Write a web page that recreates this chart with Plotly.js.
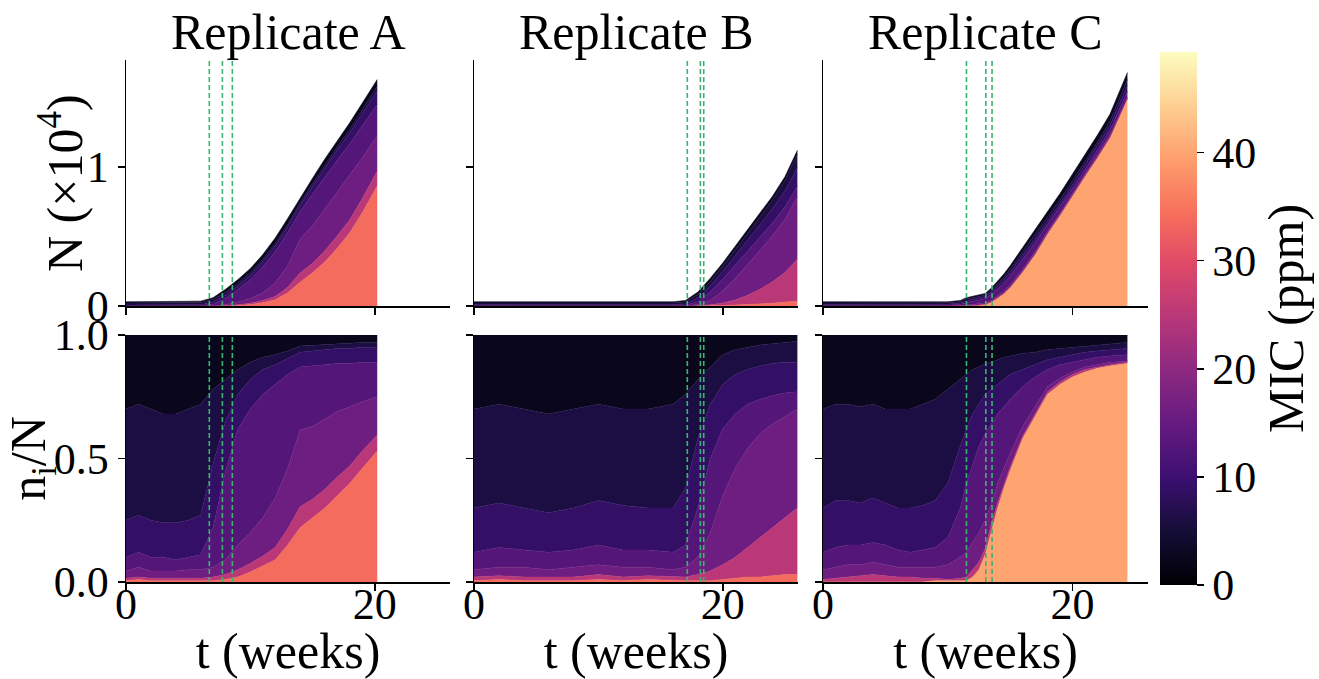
<!DOCTYPE html>
<html>
<head>
<meta charset="utf-8">
<script src="https://cdn.plot.ly/plotly-3.0.1.min.js"></script>
<style>
html,body{margin:0;padding:0;background:#fff}
#chart{width:1319px;height:679px}
#chart svg text{font-family:"Liberation Serif","DejaVu Serif","Noto Serif","Times New Roman",Times,serif !important}
</style>
</head>
<body>
<div id="chart"></div>
<script>
// ---------------- DATA ----------------
const replicateNames = ['Replicate A', 'Replicate B', 'Replicate C'];
const xTickVals = [0, 20];
const topYTickVals = [0, 1];
const bottomYTickVals = [0, 0.5, 1];
const colorbarTickVals = [0, 10, 20, 30, 40];

// MIC class (ppm) of each stacked band, bottom band first
const micClassesA = [34, 25, 16, 13, 9, 6, 2.5];
const micClassesB = [34, 25, 16, 13, 9, 6, 2.5];
const micClassesC = [40, 25, 16, 13, 9, 6, 2.5];

// dashed event lines (weeks)
const eventsA = [6.7, 7.75, 8.55];
const eventsB = [17.15, 18.2, 18.47];
const eventsC = [11.5, 13.05, 13.55];

// Replicate A
const tA = [0, 1, 2, 3, 4, 5, 6, 7, 8, 9, 10, 11, 12, 13, 14, 15, 16, 17, 18, 19, 20.2];
const NA = [0.03, 0.03, 0.03, 0.03, 0.03, 0.03, 0.035, 0.06, 0.12, 0.19, 0.27, 0.37, 0.49, 0.63, 0.78, 0.92, 1.06, 1.19, 1.32, 1.46, 1.63];
const fracA = [
  [0.005, 0.01, 0.005, 0.005, 0.005, 0.005, 0.005, 0.005, 0.01, 0.02, 0.04, 0.065, 0.09, 0.15, 0.22, 0.26, 0.30, 0.35, 0.40, 0.46, 0.53],
  [0.01, 0.01, 0.01, 0.01, 0.01, 0.01, 0.01, 0.015, 0.02, 0.03, 0.035, 0.04, 0.05, 0.065, 0.085, 0.075, 0.075, 0.075, 0.07, 0.07, 0.065],
  [0.03, 0.04, 0.03, 0.03, 0.03, 0.035, 0.035, 0.04, 0.06, 0.10, 0.125, 0.155, 0.20, 0.245, 0.31, 0.295, 0.285, 0.265, 0.24, 0.20, 0.155],
  [0.055, 0.06, 0.055, 0.055, 0.045, 0.05, 0.06, 0.16, 0.36, 0.47, 0.50, 0.50, 0.46, 0.38, 0.255, 0.245, 0.22, 0.195, 0.175, 0.16, 0.14],
  [0.15, 0.15, 0.15, 0.14, 0.15, 0.15, 0.16, 0.26, 0.20, 0.14, 0.12, 0.10, 0.08, 0.065, 0.06, 0.06, 0.06, 0.06, 0.06, 0.06, 0.06],
  [0.45, 0.45, 0.45, 0.44, 0.44, 0.45, 0.45, 0.30, 0.17, 0.10, 0.07, 0.05, 0.04, 0.03, 0.025, 0.023, 0.02, 0.02, 0.02, 0.02, 0.02],
  [0.30, 0.28, 0.30, 0.32, 0.32, 0.30, 0.28, 0.22, 0.18, 0.14, 0.11, 0.09, 0.08, 0.065, 0.045, 0.042, 0.04, 0.035, 0.035, 0.03, 0.03]
];

// Replicate B
const tB = [0, 2, 4, 6, 8, 10, 12, 14, 16, 17, 18, 19, 20, 21, 22, 23, 24, 25, 26];
const NB = [0.03, 0.03, 0.03, 0.03, 0.03, 0.03, 0.03, 0.03, 0.03, 0.04, 0.10, 0.20, 0.31, 0.43, 0.55, 0.67, 0.79, 0.93, 1.12];
const fracB = [
  [0.005, 0.01, 0.005, 0.005, 0.005, 0.01, 0.005, 0.01, 0.005, 0.005, 0.005, 0.005, 0.01, 0.015, 0.02, 0.02, 0.025, 0.03, 0.03],
  [0.015, 0.015, 0.015, 0.015, 0.015, 0.02, 0.015, 0.015, 0.015, 0.015, 0.025, 0.04, 0.06, 0.085, 0.12, 0.16, 0.195, 0.23, 0.27],
  [0.03, 0.035, 0.04, 0.03, 0.04, 0.04, 0.04, 0.035, 0.03, 0.04, 0.07, 0.155, 0.28, 0.36, 0.40, 0.42, 0.42, 0.41, 0.40],
  [0.07, 0.08, 0.07, 0.07, 0.07, 0.08, 0.07, 0.07, 0.07, 0.09, 0.20, 0.30, 0.27, 0.22, 0.18, 0.14, 0.115, 0.095, 0.07],
  [0.18, 0.18, 0.17, 0.16, 0.17, 0.18, 0.18, 0.17, 0.18, 0.23, 0.28, 0.22, 0.18, 0.16, 0.14, 0.135, 0.13, 0.125, 0.12],
  [0.40, 0.40, 0.40, 0.40, 0.40, 0.39, 0.39, 0.40, 0.42, 0.38, 0.24, 0.15, 0.12, 0.10, 0.09, 0.085, 0.08, 0.08, 0.085],
  [0.30, 0.28, 0.30, 0.32, 0.30, 0.28, 0.30, 0.30, 0.28, 0.24, 0.18, 0.13, 0.08, 0.06, 0.05, 0.04, 0.035, 0.03, 0.025]
];

// Replicate C
const tC = [0, 1, 2, 3, 4, 5, 6, 7, 8, 9, 10, 11, 11.5, 12, 12.5, 13, 13.5, 14, 14.5, 15, 16, 17, 18, 19, 20, 21, 22, 23, 24.4];
const NC = [0.03, 0.03, 0.03, 0.03, 0.03, 0.03, 0.03, 0.03, 0.03, 0.03, 0.03, 0.04, 0.06, 0.07, 0.08, 0.09, 0.13, 0.18, 0.23, 0.29, 0.42, 0.55, 0.68, 0.81, 0.95, 1.09, 1.23, 1.38, 1.68];
const fracC = [
  [0, 0, 0, 0, 0, 0, 0, 0, 0, 0.005, 0.005, 0.005, 0.005, 0.02, 0.05, 0.11, 0.21, 0.30, 0.38, 0.45, 0.58, 0.67, 0.76, 0.80, 0.83, 0.85, 0.865, 0.875, 0.885],
  [0.01, 0.015, 0.02, 0.025, 0.03, 0.025, 0.02, 0.02, 0.015, 0.01, 0.005, 0.01, 0.015, 0.03, 0.03, 0.025, 0.025, 0.02, 0.015, 0.015, 0.01, 0.01, 0.01, 0.01, 0.01, 0.01, 0.005, 0.005, 0.005],
  [0.04, 0.045, 0.05, 0.045, 0.05, 0.045, 0.04, 0.04, 0.045, 0.045, 0.06, 0.085, 0.10, 0.11, 0.12, 0.115, 0.085, 0.08, 0.065, 0.055, 0.04, 0.03, 0.02, 0.015, 0.01, 0.01, 0.01, 0.01, 0.005],
  [0.07, 0.08, 0.08, 0.08, 0.08, 0.08, 0.07, 0.06, 0.07, 0.08, 0.11, 0.20, 0.28, 0.32, 0.35, 0.35, 0.32, 0.28, 0.25, 0.22, 0.16, 0.12, 0.07, 0.055, 0.04, 0.03, 0.03, 0.025, 0.025],
  [0.18, 0.19, 0.18, 0.17, 0.18, 0.17, 0.17, 0.18, 0.18, 0.19, 0.22, 0.25, 0.22, 0.20, 0.17, 0.16, 0.14, 0.12, 0.11, 0.10, 0.07, 0.05, 0.04, 0.03, 0.03, 0.03, 0.025, 0.025, 0.025],
  [0.40, 0.39, 0.39, 0.39, 0.38, 0.38, 0.40, 0.40, 0.41, 0.41, 0.38, 0.27, 0.22, 0.18, 0.15, 0.125, 0.11, 0.10, 0.09, 0.075, 0.065, 0.05, 0.04, 0.035, 0.03, 0.025, 0.025, 0.025, 0.025],
  [0.30, 0.28, 0.28, 0.29, 0.28, 0.30, 0.30, 0.30, 0.28, 0.26, 0.22, 0.18, 0.16, 0.14, 0.13, 0.115, 0.11, 0.10, 0.09, 0.085, 0.075, 0.07, 0.06, 0.055, 0.05, 0.045, 0.04, 0.035, 0.03]
];

// ---------------- STYLE ----------------
const FONT = '"Liberation Serif", "DejaVu Serif", "Noto Serif", "Times New Roman", Times, serif';
const micMax = 49.3;
const magma = [
  [0.0, '#000004'], [0.1, '#140e36'], [0.2, '#3b0f70'], [0.3, '#641a80'],
  [0.4, '#8c2981'], [0.5, '#b73779'], [0.6, '#de4968'], [0.7, '#f7705c'],
  [0.8, '#fe9f6d'], [0.9, '#fecf92'], [1.0, '#fcfdbf']
];
function hexRgb(h) { return [1, 3, 5].map(i => parseInt(h.substr(i, 2), 16)); }
function magmaColor(v) {
  const p = Math.max(0, Math.min(1, v / micMax));
  for (let i = 1; i < magma.length; i++) {
    if (p <= magma[i][0]) {
      const p0 = magma[i - 1][0], p1 = magma[i][0];
      const a = hexRgb(magma[i - 1][1]), b = hexRgb(magma[i][1]);
      const f = (p - p0) / (p1 - p0);
      return 'rgb(' + a.map((x, j) => Math.round(x + (b[j] - x) * f)).join(',') + ')';
    }
  }
  return magma[magma.length - 1][1];
}

const reps = [
  {t: tA, N: NA, frac: fracA, mic: micClassesA, ev: eventsA},
  {t: tB, N: NB, frac: fracB, mic: micClassesB, ev: eventsB},
  {t: tC, N: NC, frac: fracC, mic: micClassesC, ev: eventsC}
];

const traces = [];
const shapes = [];
reps.forEach((r, col) => {
  const topIdx = col + 1, botIdx = col + 4;
  const ax = i => (i === 1 ? '' : String(i));
  r.mic.forEach((m, k) => {
    const c = magmaColor(m);
    const base = {
      x: r.t, mode: 'lines', line: {width: 0.6, color: c}, fillcolor: c,
      hoverinfo: 'skip', showlegend: false
    };
    traces.push(Object.assign({}, base, {
      y: r.t.map((_, i) => r.N[i] * r.frac[k][i]),
      stackgroup: 'top' + col, xaxis: 'x' + ax(topIdx), yaxis: 'y' + ax(topIdx)
    }));
    const bt = Object.assign({}, base, {
      y: r.frac[k], stackgroup: 'bot' + col, xaxis: 'x' + ax(botIdx), yaxis: 'y' + ax(botIdx)
    });
    if (col === 2 && k === 0) {
      bt.mode = 'lines+markers';
      bt.marker = {
        size: 0, opacity: 0, color: r.t.map(() => m), colorscale: magma, cmin: 0, cmax: micMax,
        showscale: true,
        colorbar: {
          x: 1160 / 1319, xanchor: 'left', y: 1 - 318.5 / 679, yanchor: 'middle',
          len: 533 / 679, lenmode: 'fraction', thickness: 37, thicknessmode: 'pixels',
          xpad: 0, ypad: 0, outlinewidth: 0, ticks: 'outside', ticklen: 7, tickwidth: 1.5,
          tickcolor: 'black', tickvals: colorbarTickVals,
          tickfont: {family: FONT, size: 44, color: 'black'},
          title: {text: 'MIC (ppm)', side: 'right', font: {family: FONT, size: 50, color: 'black'}}
        }
      };
    }
    traces.push(bt);
  });
  [topIdx, botIdx].forEach(idx => {
    r.ev.forEach(e => shapes.push({
      type: 'line', xref: 'x' + ax(idx), yref: 'y' + ax(idx) + ' domain',
      x0: e, x1: e, y0: 0, y1: 1,
      line: {color: '#3cb371', width: 1.6, dash: '5px,3px'}
    }));
  });
});

const axisBase = {
  showline: true, linecolor: 'black', linewidth: 1.5, ticks: 'outside', ticklen: 7,
  tickwidth: 1.5, tickcolor: 'black', showgrid: false, zeroline: false,
  tickfont: {family: FONT, size: 44, color: 'black'}
};
const xDomains = [[126 / 1319, 450 / 1319], [474 / 1319, 798 / 1319], [823 / 1319, 1148 / 1319]];
const topDomain = [1 - 306 / 679, 1 - 60 / 679];
const botDomain = [1 - 582 / 679, 1 - 335 / 679];

const annotations = replicateNames.map((n, i) => ({
  text: n, xref: 'paper', yref: 'paper',
  x: (xDomains[i][0] + xDomains[i][1]) / 2, y: 1 - 32 / 679,
  xanchor: 'center', yanchor: 'middle', showarrow: false,
  font: {family: FONT, size: 50, color: 'black'}
}));
// y-axis title of the top row
annotations.push({
  text: 'N (×10<sup>4</sup>)', xref: 'paper', yref: 'paper',
  x: 62 / 1319, y: (topDomain[0] + topDomain[1]) / 2, textangle: -90,
  xanchor: 'center', yanchor: 'middle', showarrow: false,
  font: {family: FONT, size: 50, color: 'black'}
});

const layout = {
  width: 1319, height: 679,
  margin: {l: 0, r: 0, t: 0, b: 0, autoexpand: false},
  paper_bgcolor: 'white', plot_bgcolor: 'white',
  font: {family: FONT, color: 'black'},
  shapes: shapes,
  annotations: annotations
};
for (let col = 0; col < 3; col++) {
  const ti = col + 1, bi = col + 4;
  const nm = i => (i === 1 ? '' : String(i));
  layout['xaxis' + nm(ti)] = Object.assign({}, axisBase, {
    domain: xDomains[col], range: [0, 26.05], tickvals: xTickVals, showticklabels: false,
    anchor: 'y' + nm(ti)
  });
  layout['yaxis' + nm(ti)] = Object.assign({}, axisBase, {
    domain: topDomain, range: [0, 1.77], tickvals: topYTickVals, showticklabels: col === 0,
    anchor: 'x' + nm(ti)
  });
  layout['xaxis' + bi] = Object.assign({}, axisBase, {
    domain: xDomains[col], range: [0, 26.05], tickvals: xTickVals, anchor: 'y' + bi,
    ticklabelstandoff: -24,
    title: {text: 't (weeks)', font: {family: FONT, size: 50, color: 'black'}}
  });
  layout['yaxis' + bi] = Object.assign({}, axisBase, {
    domain: botDomain, range: [0, 1], tickvals: bottomYTickVals, tickformat: '.1f',
    showticklabels: col === 0, anchor: 'x' + bi,
    title: col === 0 ? {text: 'n<sub>i</sub>/N', font: {family: FONT, size: 50, color: 'black'}} : undefined
  });
}

Plotly.newPlot('chart', traces, layout, {staticPlot: true, displayModeBar: false});
</script>
</body>
</html>
